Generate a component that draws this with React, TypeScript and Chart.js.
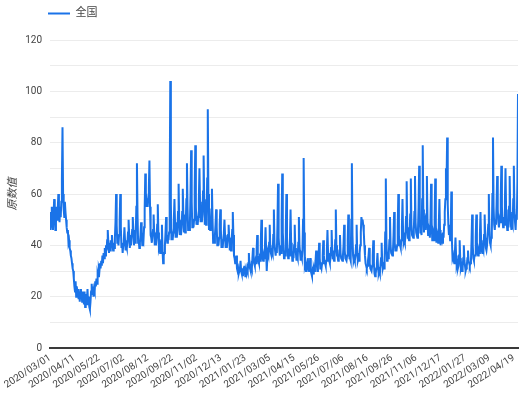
import React, { useEffect, useRef } from 'react';
import { Chart, registerables } from 'chart.js';

Chart.register(...registerables);

// x-axis tick labels, one every 41 days starting at 2020/03/01 (day 0)
const tickStep = 41;
const tickLabels = [
  '2020/03/01', '2020/04/11', '2020/05/22', '2020/07/02', '2020/08/12',
  '2020/09/22', '2020/11/02', '2020/12/13', '2021/01/23', '2021/03/05',
  '2021/04/15', '2021/05/26', '2021/07/06', '2021/08/16', '2021/09/26',
  '2021/11/06', '2021/12/17', '2022/01/27', '2022/03/09', '2022/04/19',
];

const seriesLabel = '全国';
const yAxisTitle = '原数值';

// daily values, 2020/03/01 – 2021/01/02 (rows are weeks)
const values1 = [
  53, 46, 50, 55, 49, 46, 52,
  58, 53, 46, 49, 55, 50, 54,
  60, 54, 49, 55, 51, 57, 66,
  86, 60, 54, 51, 57, 53, 50,
  47, 45, 46, 41, 42, 39, 38,
  36, 35, 33, 31, 30, 27, 24,
  22, 26, 20, 24, 21, 23, 19,
  22, 18, 23, 19, 21, 18, 22,
  20, 17, 22, 16, 21, 17, 19,
  23, 17, 20, 16, 15, 18, 22,
  25, 21, 24, 20, 23, 22, 26,
  24, 27, 25, 29, 28, 31, 30,
  33, 31, 34, 32, 36, 33, 37,
  35, 39, 36, 40, 38, 42, 46,
  41, 37, 40, 38, 42, 40, 44,
  40, 38, 41, 39, 43, 49, 60,
  48, 41, 43, 40, 44, 50, 60,
  47, 39, 41, 37, 40, 42, 47,
  42, 38, 40, 39, 41, 45, 50,
  44, 39, 42, 40, 43, 46, 51,
  46, 40, 43, 41, 44, 55, 72,
  52, 41, 42, 39, 41, 44, 49,
  44, 40, 43, 42, 47, 54, 68,
  58, 55, 57, 55, 58, 62, 73,
  55, 44, 43, 41, 44, 46, 52,
  45, 40, 42, 40, 43, 48, 56,
  45, 39, 40, 37, 39, 42, 48,
  38, 33, 36, 37, 40, 45, 51,
  44, 41, 44, 42, 45, 60, 104,
  56, 42, 44, 42, 45, 50, 58,
  49, 43, 45, 43, 46, 53, 64,
  50, 44, 46, 44, 47, 53, 62,
  52, 45, 47, 45, 48, 58, 72,
  55, 46, 48, 46, 49, 60, 77,
  57, 47, 49, 47, 50, 62, 79,
  55, 48, 50, 48, 51, 58, 70,
  57, 49, 51, 49, 52, 61, 75,
  58, 48, 50, 48, 51, 66, 93,
  60, 46, 48, 46, 49, 54, 62,
  50, 41, 43, 41, 44, 48, 54,
  47, 40, 42, 40, 43, 48, 54,
  46, 39, 41, 39, 42, 45, 50,
  44, 39, 41, 39, 42, 44, 48,
  43, 38, 40, 38, 41, 46, 53,
];

// daily values, 2021/01/03 – 2022/01/01
const values2 = [
  44, 36, 35, 33, 34, 36, 31,
  30, 31, 29, 30, 31, 34, 30,
  29, 31, 28, 30, 29, 32, 28,
  30, 29, 31, 30, 33, 37, 32,
  31, 30, 32, 31, 35, 39, 34,
  33, 32, 34, 33, 38, 44, 36,
  34, 33, 35, 34, 41, 50, 38,
  35, 34, 36, 35, 40, 47, 38,
  30, 35, 37, 36, 41, 48, 39,
  37, 36, 38, 37, 44, 54, 41,
  38, 36, 39, 37, 48, 64, 43,
  39, 36, 40, 37, 50, 68, 45,
  40, 35, 38, 36, 46, 60, 43,
  39, 35, 37, 36, 43, 54, 41,
  38, 34, 37, 35, 40, 48, 39,
  37, 34, 36, 35, 41, 51, 40,
  37, 34, 36, 35, 38, 50, 74,
  45, 32, 33, 30, 32, 31, 35,
  31, 30, 31, 35, 30, 29, 28,
  30, 29, 31, 30, 32, 34, 38,
  33, 30, 32, 35, 41, 35, 31,
  32, 31, 33, 36, 42, 36, 33,
  33, 32, 34, 38, 46, 37, 34,
  34, 33, 35, 39, 46, 38, 35,
  35, 34, 36, 42, 54, 40, 36,
  36, 34, 35, 38, 44, 37, 35,
  35, 34, 36, 40, 48, 38, 35,
  35, 34, 36, 42, 52, 39, 35,
  35, 34, 50, 72, 44, 36, 34,
  35, 34, 36, 40, 48, 37, 34,
  35, 34, 37, 40, 45, 51, 49,
  50, 48, 45, 40, 36, 33, 32,
  31, 32, 34, 36, 39, 33, 31,
  31, 30, 32, 36, 42, 33, 29,
  28, 29, 31, 33, 37, 31, 29,
  30, 29, 32, 35, 41, 33, 31,
  32, 31, 34, 45, 66, 42, 34,
  36, 35, 37, 42, 51, 40, 37,
  37, 36, 38, 44, 53, 41, 38,
  38, 38, 40, 47, 60, 44, 40,
  40, 39, 42, 47, 58, 45, 41,
  42, 41, 44, 51, 65, 47, 43,
  43, 42, 45, 52, 66, 48, 44,
  44, 43, 46, 53, 67, 49, 45,
  45, 43, 46, 55, 71, 50, 45,
  46, 44, 58, 79, 54, 45, 49,
  50, 46, 52, 67, 50, 44, 47,
  46, 43, 50, 64, 49, 42, 46,
  45, 42, 51, 66, 48, 41, 45,
  44, 41, 48, 58, 46, 40, 44,
  43, 41, 45, 43, 48, 53, 58,
  70, 64, 82, 56, 48, 44, 46,
];

// daily values, 2022/01/02 – 2022/04/26
const values3 = [
  42, 45, 61, 42, 35, 36, 34,
  33, 37, 43, 36, 32, 33, 31,
  32, 36, 42, 35, 31, 32, 30,
  31, 35, 40, 34, 32, 30, 31,
  32, 35, 38, 34, 33, 32, 33,
  34, 42, 52, 40, 35, 34, 36,
  36, 43, 52, 41, 37, 36, 38,
  37, 44, 53, 42, 38, 37, 39,
  38, 44, 52, 43, 39, 38, 40,
  40, 48, 60, 46, 41, 40, 43,
  45, 60, 82, 55, 48, 46, 50,
  48, 56, 67, 54, 49, 47, 50,
  49, 58, 71, 55, 50, 47, 51,
  48, 57, 70, 54, 49, 46, 50,
  47, 55, 67, 53, 48, 46, 49,
  48, 58, 71, 54, 49, 46, 52,
  50, 65, 99,
];

const series = [...values1, ...values2, ...values3];

const FONT = 'Roboto, "Noto Sans CJK SC", sans-serif';
const LINE_COLOR = '#1a73e8';
const TOP_PAD = 11;

const legendShift = {
  id: 'legendShift',
  afterLayout(chart: any) {
    const l = chart.legend;
    if (l) {
      l.left += 40;
      l.right += 40;
      l.top -= TOP_PAD;
      l.bottom -= TOP_PAD;
    }
  },
};

export default function App() {
  const ref = useRef<HTMLCanvasElement>(null);

  useEffect(() => {
    const points = series.map((v, i) => ({ x: i, y: v }));
    const chart = new Chart(ref.current as HTMLCanvasElement, {
      type: 'line',
      data: {
        datasets: [
          {
            label: seriesLabel,
            data: points,
            borderColor: LINE_COLOR,
            backgroundColor: LINE_COLOR,
            borderWidth: 2,
            pointRadius: 0,
            tension: 0,
            fill: false,
          },
        ],
      },
      options: {
        responsive: false,
        animation: false,
        events: [],
        layout: { padding: { top: TOP_PAD, right: 11, left: 0, bottom: 0 } },
        plugins: {
          tooltip: { enabled: false },
          legend: {
            position: 'top',
            align: 'start',
            labels: {
              boxWidth: 22,
              boxHeight: 2,
              padding: 8,
              color: '#444',
              font: { family: FONT, size: 11 },
              generateLabels: (c: any) =>
                (Chart.defaults.plugins.legend.labels.generateLabels as any)(c).map((it: any) => ({
                  ...it,
                  lineWidth: 0,
                  fillStyle: LINE_COLOR,
                })),
            },
          },
        },
        scales: {
          x: {
            type: 'linear',
            min: 0,
            max: series.length - 1,
            grid: { display: false, drawTicks: false },
            border: { display: true, color: '#3a3a3a', width: 2 },
            ticks: {
              stepSize: tickStep,
              includeBounds: false,
              autoSkip: false,
              maxRotation: 33,
              minRotation: 33,
              padding: 4,
              color: '#444',
              font: { family: FONT, size: 10 },
              callback: (v: any) => {
                const k = Math.round(Number(v) / tickStep);
                return k * tickStep === Number(v) ? tickLabels[k] ?? '' : '';
              },
            },
            afterFit: (s: any) => {
              s.height = 47;
            },
          },
          y: {
            min: 0,
            max: 120,
            grid: {
              drawTicks: false,
              color: (ctx: any) => (ctx.tick && ctx.tick.value === 0 ? 'rgba(0,0,0,0)' : '#ececec'),
            },
            border: { display: false },
            ticks: {
              stepSize: 10,
              padding: 8,
              color: '#444',
              font: { family: FONT, size: 10 },
              callback: (v: any) => (Number(v) % 20 === 0 ? String(v) : ''),
            },
            title: {
              display: true,
              text: yAxisTitle,
              color: '#444',
              padding: { top: 7, bottom: 0 },
              font: { family: FONT, size: 11, style: 'italic' },
            },
            afterFit: (s: any) => {
              s.width = 50;
            },
          },
        },
      },
      plugins: [legendShift],
    } as any);
    return () => chart.destroy();
  }, []);

  return (
    <div style={{ position: 'fixed', left: 0, top: 0, width: 529, height: 395, background: '#fff' }}>
      <canvas ref={ref} width={529} height={395} style={{ display: 'block' }} />
    </div>
  );
}
